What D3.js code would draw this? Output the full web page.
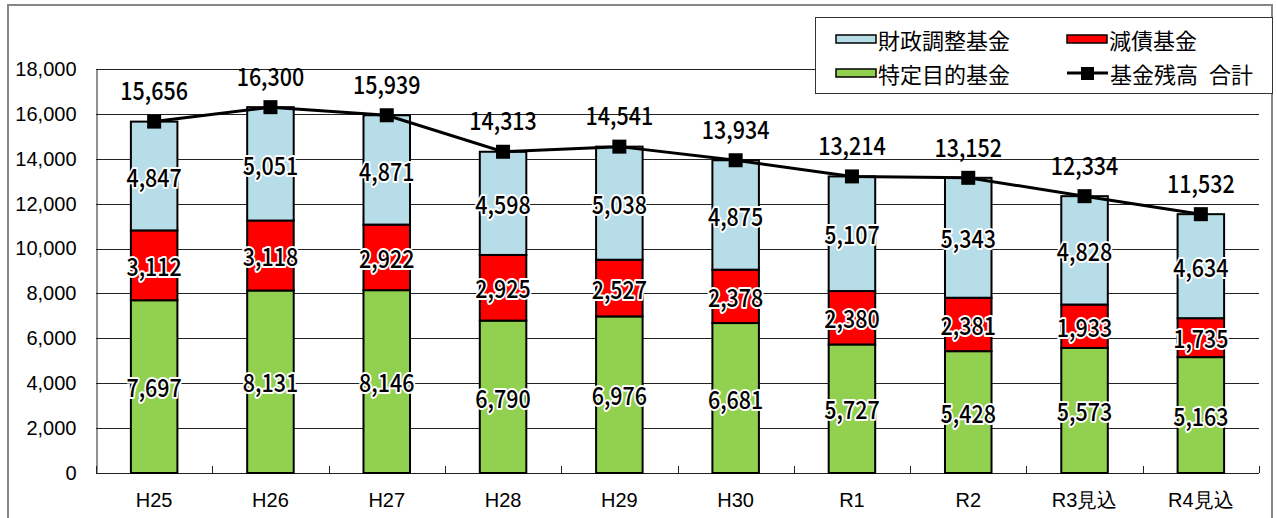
<!DOCTYPE html>
<html>
<head>
<meta charset="utf-8">
<script src="https://cdn.jsdelivr.net/npm/d3@7"></script>
<style>
  body { margin: 0; background: #fff; }
  svg { display: block; }
</style>
</head>
<body>
<div id="chart"></div>
<script>
// data
const categories = ["H25", "H26", "H27", "H28", "H29", "H30", "R1", "R2", "R3見込", "R4見込"];
const tokuteiFund = [7697, 8131, 8146, 6790, 6976, 6681, 5727, 5428, 5573, 5163]; // 特定目的基金
const gensaiFund = [3112, 3118, 2922, 2925, 2527, 2378, 2380, 2381, 1933, 1735]; // 減債基金
const zaiseiFund = [4847, 5051, 4871, 4598, 5038, 4875, 5107, 5343, 4828, 4634]; // 財政調整基金
const totals = [15656, 16300, 15939, 14313, 14541, 13934, 13214, 13152, 12334, 11532]; // 基金残高 合計
const yTickValues = [0, 2000, 4000, 6000, 8000, 10000, 12000, 14000, 16000, 18000];

const seriesKeys = ["tokutei", "gensai", "zaisei"];
const seriesNames = { tokutei: "特定目的基金", gensai: "減債基金", zaisei: "財政調整基金" };
const seriesColors = { tokutei: "#92d050", gensai: "#ff0000", zaisei: "#b7dde8" };

const width = 1277,
  height = 518,
  marginLeft = 96,
  marginRight = 18,
  marginTop = 69,
  plotBottom = 473;

const labelFont = "'Noto Sans CJK JP', 'Noto Sans', sans-serif";
const axisFont = "'Liberation Sans', Arial, sans-serif";

const table = categories.map((c, i) => ({
  cat: c,
  tokutei: tokuteiFund[i],
  gensai: gensaiFund[i],
  zaisei: zaiseiFund[i],
  total: totals[i],
}));

const xScale = d3
  .scaleBand(categories, [marginLeft, width - marginRight])
  .paddingInner(0.6)
  .paddingOuter(0.3);
const yScale = d3.scaleLinear([0, 18000], [plotBottom, marginTop]);
const step = xScale.step();
const cx = (c) => xScale(c) + xScale.bandwidth() / 2;

const svg = d3
  .select("#chart")
  .append("svg")
  .attr("width", width)
  .attr("height", height)
  .attr("viewBox", [0, 0, width, height]);

// outer frame
svg
  .append("rect")
  .attr("x", 8)
  .attr("y", 5)
  .attr("width", 1264)
  .attr("height", 530)
  .attr("fill", "#fff")
  .attr("stroke", "#868686")
  .attr("stroke-width", 2);

// gridlines
svg
  .append("g")
  .selectAll("line")
  .data(yTickValues.filter((d) => d > 0))
  .join("line")
  .attr("x1", marginLeft)
  .attr("x2", width - marginRight)
  .attr("y1", (d) => Math.round(yScale(d)) + 0.5)
  .attr("y2", (d) => Math.round(yScale(d)) + 0.5)
  .attr("stroke", "#222")
  .attr("stroke-width", 1);

// y axis
const yAxis = d3.axisLeft(yScale).tickValues(yTickValues).tickSize(0).tickPadding(20).tickFormat(d3.format(","));
svg
  .append("g")
  .attr("transform", `translate(${marginLeft + 0.5},0)`)
  .call(yAxis)
  .call((g) => g.select(".domain").attr("stroke", "#222"))
  .call((g) =>
    g
      .selectAll(".tick text")
      .attr("font-size", 20)
      .attr("font-family", axisFont)
      .attr("fill", "#000")
  );

// x axis: boundary ticks pointing up
const xAxisG = svg.append("g");
xAxisG
  .append("line")
  .attr("x1", marginLeft)
  .attr("x2", width - marginRight)
  .attr("y1", plotBottom + 0.5)
  .attr("y2", plotBottom + 0.5)
  .attr("stroke", "#222");
xAxisG
  .selectAll("line.tk")
  .data(d3.range(categories.length + 1))
  .join("line")
  .attr("class", "tk")
  .attr("x1", (k) => Math.round(marginLeft + k * step) + 0.5)
  .attr("x2", (k) => Math.round(marginLeft + k * step) + 0.5)
  .attr("y1", plotBottom)
  .attr("y2", plotBottom - 7)
  .attr("stroke", "#222");
xAxisG
  .selectAll("text")
  .data(categories)
  .join("text")
  .attr("x", (c) => cx(c))
  .attr("y", 507)
  .attr("text-anchor", "middle")
  .attr("font-size", 20)
  .attr("font-family", axisFont)
  .text((c) => c);

// stacked bars
const stacked = d3.stack().keys(seriesKeys)(table);

const barG = svg.append("g");
stacked.forEach((layer) => {
  barG
    .append("g")
    .selectAll("rect")
    .data(layer)
    .join("rect")
    .attr("x", (d) => xScale(d.data.cat))
    .attr("y", (d) => yScale(d[1]))
    .attr("width", xScale.bandwidth())
    .attr("height", (d) => yScale(d[0]) - yScale(d[1]))
    .attr("fill", seriesColors[layer.key])
    .attr("stroke", "#000")
    .attr("stroke-width", 2);
});

// value labels with white halo
function haloText(sel) {
  sel
    .attr("font-family", labelFont)
    .attr("font-size", 25)
    .attr("font-weight", 500)
    .attr("text-anchor", "middle")
    .attr("dominant-baseline", "central")
    .attr("fill", "#000")
    .attr("stroke", "#fff")
    .attr("stroke-width", 4)
    .attr("stroke-linejoin", "round")
    .attr("paint-order", "stroke");
}

stacked.forEach((layer) => {
  svg
    .append("g")
    .selectAll("text")
    .data(layer)
    .join("text")
    .attr("transform", (d) => `translate(${cx(d.data.cat)},${yScale((d[0] + d[1]) / 2)}) scale(0.86,1)`)
    .call(haloText)
    .text((d) => d3.format(",")(d[1] - d[0]));
});

// total line
const line = d3
  .line()
  .x((d) => cx(d.cat))
  .y((d) => yScale(d.total));

svg
  .append("path")
  .datum(table)
  .attr("d", line)
  .attr("fill", "none")
  .attr("stroke", "#000")
  .attr("stroke-width", 3);

svg
  .append("g")
  .selectAll("rect")
  .data(table)
  .join("rect")
  .attr("x", (d) => cx(d.cat) - 7)
  .attr("y", (d) => yScale(d.total) - 7)
  .attr("width", 14)
  .attr("height", 14)
  .attr("fill", "#000");

svg
  .append("g")
  .selectAll("text")
  .data(table)
  .join("text")
  .attr("transform", (d) => `translate(${cx(d.cat)},${yScale(d.total) - 32}) scale(0.86,1)`)
  .call(haloText)
  .attr("stroke-width", 0)
  .text((d) => d3.format(",")(d.total));

// legend
const legend = svg.append("g");
legend
  .append("rect")
  .attr("x", 815.5)
  .attr("y", 17.5)
  .attr("width", 457)
  .attr("height", 76)
  .attr("fill", "#fff")
  .attr("stroke", "#333")
  .attr("stroke-width", 1);

const legendItems = [
  { key: "zaisei", x: 836, y: 39 },
  { key: "gensai", x: 1067, y: 39 },
  { key: "tokutei", x: 836, y: 73 },
];

legendItems.forEach((it) => {
  legend
    .append("rect")
    .attr("x", it.x)
    .attr("y", it.y - 4)
    .attr("width", 40)
    .attr("height", 8)
    .attr("fill", seriesColors[it.key])
    .attr("stroke", "#000")
    .attr("stroke-width", 1.5);
  legend
    .append("text")
    .attr("x", it.x + 42)
    .attr("y", it.y)
    .attr("dominant-baseline", "central")
    .attr("font-size", 22)
    .attr("font-family", labelFont)
    .text(seriesNames[it.key]);
});

legend
  .append("line")
  .attr("x1", 1067)
  .attr("x2", 1108)
  .attr("y1", 73)
  .attr("y2", 73)
  .attr("stroke", "#000")
  .attr("stroke-width", 3);
legend
  .append("rect")
  .attr("x", 1081)
  .attr("y", 67)
  .attr("width", 13)
  .attr("height", 13)
  .attr("fill", "#000");
const lineLabel = legend
  .append("text")
  .attr("x", 1110)
  .attr("y", 73)
  .attr("dominant-baseline", "central")
  .attr("font-size", 22)
  .attr("font-family", labelFont);
lineLabel.append("tspan").text("基金残高");
lineLabel.append("tspan").attr("dx", 11).text("合計");
</script>
</body>
</html>
